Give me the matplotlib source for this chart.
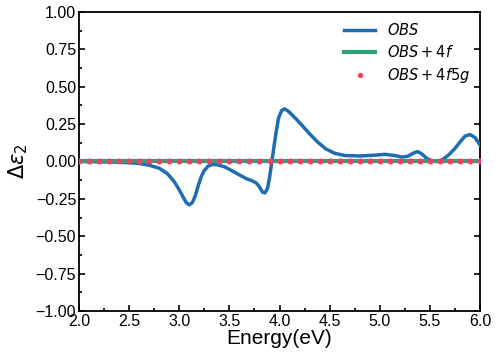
import numpy as np
import matplotlib.pyplot as plt
from matplotlib.ticker import MultipleLocator

# energy grid and difference spectra
energy = [2.0, 2.2, 2.4, 2.5, 2.6, 2.7, 2.8, 2.88, 2.95, 3.0, 3.04, 3.07, 3.10, 3.13,
          3.16, 3.19, 3.22, 3.25, 3.29, 3.33, 3.38, 3.45, 3.52, 3.6, 3.67, 3.73, 3.77,
          3.8, 3.83, 3.855, 3.88, 3.9, 3.93, 3.96, 3.99, 4.02, 4.05, 4.09, 4.15, 4.22,
          4.3, 4.38, 4.46, 4.55, 4.65, 4.8, 4.95, 5.05, 5.15, 5.22, 5.28, 5.34,
          5.38, 5.42, 5.47, 5.52, 5.57, 5.62, 5.68, 5.74, 5.8, 5.85, 5.9, 5.95, 6.0]
d_obs = [0.0, -0.002, -0.005, -0.008, -0.013, -0.025, -0.045, -0.08, -0.135, -0.19,
         -0.24, -0.275, -0.29, -0.275, -0.23, -0.16, -0.1, -0.06, -0.03, -0.02,
         -0.022, -0.035, -0.06, -0.09, -0.115, -0.13, -0.145, -0.17, -0.205, -0.21,
         -0.18, -0.11, 0.03, 0.17, 0.29, 0.34, 0.352, 0.335, 0.295, 0.245, 0.185,
         0.13, 0.085, 0.055, 0.04, 0.037, 0.042, 0.048, 0.04, 0.03, 0.035, 0.058,
         0.066, 0.05, 0.02, 0.004, 0.0, 0.01, 0.04, 0.08, 0.13, 0.17, 0.18, 0.16, 0.11]
energy_f = [2.0, 6.0]
d_4f = [0.0, 0.0]
energy_fg = np.round(np.arange(2.0, 6.001, 0.1), 2)
d_4f5g = [0.0] * len(energy_fg)

plt.rcParams['font.family'] = ['Liberation Sans', 'DejaVu Sans']
plt.rcParams['mathtext.fontset'] = 'dejavusans'

fig = plt.figure(figsize=(4.98, 3.61), dpi=100)
ax = fig.add_axes([0.1586, 0.1385, 0.8054, 0.8283])

ax.plot(energy, d_obs, color='#1f6db0', lw=2.5, label='$OBS$', zorder=3)
ax.plot(energy_f, d_4f, color='#2e9e7c', lw=3.0, label='$OBS + 4f$', zorder=4)
ax.plot(energy_fg, d_4f5g, ls='none', marker='o', ms=4.3, color='#f0405f',
        mec='none', label='$OBS + 4f5g$', zorder=5)

ax.set_xlim(2.0, 6.0)
ax.set_ylim(-1.0, 1.0)
ax.xaxis.set_major_locator(MultipleLocator(0.5))
ax.xaxis.set_minor_locator(MultipleLocator(0.25))
ax.yaxis.set_major_locator(MultipleLocator(0.25))
ax.yaxis.set_minor_locator(MultipleLocator(0.125))
ax.tick_params(which='both', direction='in', labelsize=11.5, width=1.2)
ax.tick_params(which='major', length=4, pad=2)
ax.tick_params(which='minor', length=2.5)
ax.tick_params(axis='y', which='major', right=True)
for s in ax.spines.values():
    s.set_linewidth(1.3)

ax.set_xlabel('Energy(eV)', fontsize=15, labelpad=0)
ax.set_ylabel(r'$\Delta\varepsilon_2$', fontsize=15, labelpad=4)

ax.legend(loc='upper right', frameon=False, fontsize=10.5, handlelength=2.1,
          borderaxespad=0.3, labelspacing=0.4, markerscale=0.9)

fig.savefig('out.png', dpi=100)
